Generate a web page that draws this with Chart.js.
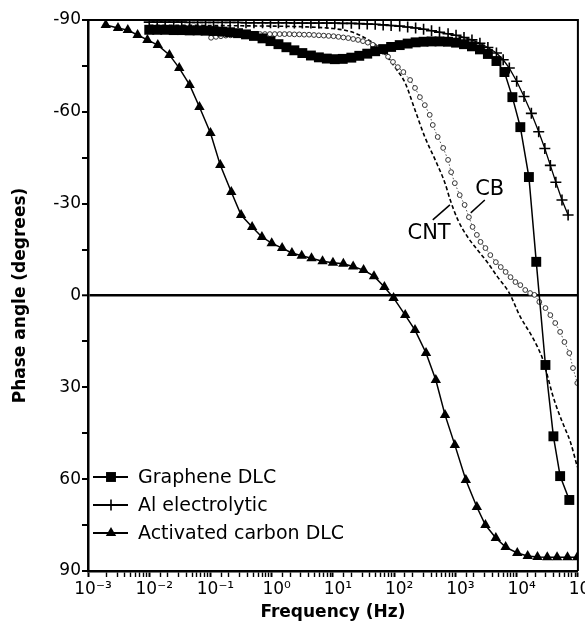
<!DOCTYPE html>
<html><head><meta charset="utf-8">
<script src="https://cdn.jsdelivr.net/npm/chart.js@4.4.1/dist/chart.umd.min.js"></script>
<style>html,body{margin:0;padding:0;background:#fff;}#wrap{width:585px;height:632px;}</style>
</head><body><div id="wrap"><canvas id="c" width="585" height="632"></canvas></div>
<script>
// ---- data (frequencies stored as log10(Hz), phase in degrees) ----
const xTickExponents = [-3,-2,-1,0,1,2,3,4,5];
const yTickLabels = [-90,-60,-30,0,30,60,90];
const seriesNames = ['Graphene DLC','Al electrolytic','Activated carbon DLC','CB','CNT'];

const grapheneLogHz = [-2.00,-1.87,-1.74,-1.60,-1.47,-1.34,-1.21,-1.08,-0.95,-0.81,-0.68,-0.55,-0.42,-0.29,-0.15,-0.02,0.11,0.24,0.37,0.50,0.64,0.77,0.90,1.03,1.16,1.30,1.43,1.56,1.69,1.82,1.95,2.09,2.22,2.35,2.48,2.61,2.74,2.88,3.01,3.14,3.27,3.40,3.53,3.67,3.80,3.93,4.06,4.20,4.32,4.47,4.60,4.71,4.86];
const graphenePhase = [-86.8,-86.8,-86.8,-86.7,-86.7,-86.6,-86.6,-86.5,-86.4,-86.2,-86.0,-85.7,-85.3,-84.8,-84.0,-83.1,-82.1,-81.1,-80.1,-79.2,-78.4,-77.8,-77.4,-77.2,-77.3,-77.7,-78.3,-79.0,-79.8,-80.5,-81.2,-81.8,-82.3,-82.7,-82.9,-83.0,-83.0,-82.9,-82.6,-82.1,-81.4,-80.4,-78.9,-76.6,-73.0,-64.8,-55.0,-38.7,-11.0,22.7,46.0,59.0,66.8];

const alLogHz = [-2.00,-1.87,-1.74,-1.60,-1.47,-1.34,-1.21,-1.08,-0.95,-0.81,-0.68,-0.55,-0.42,-0.29,-0.15,-0.02,0.11,0.24,0.37,0.50,0.64,0.77,0.90,1.03,1.16,1.30,1.43,1.56,1.69,1.82,1.95,2.09,2.22,2.35,2.48,2.61,2.74,2.88,3.01,3.14,3.27,3.40,3.53,3.67,3.78,3.88,4.00,4.12,4.24,4.36,4.46,4.55,4.64,4.74,4.84];
const alPhase = [-89.3,-89.3,-89.3,-89.3,-89.3,-89.2,-89.2,-89.2,-89.2,-89.2,-89.2,-89.2,-89.1,-89.1,-89.1,-89.1,-89.1,-89.1,-89.0,-89.0,-89.0,-89.0,-89.0,-89.0,-88.9,-88.9,-88.8,-88.7,-88.6,-88.4,-88.2,-88.0,-87.7,-87.4,-87.0,-86.5,-86.0,-85.5,-85.0,-84.3,-83.5,-82.4,-81.0,-79.2,-77.0,-74.3,-70.0,-65.0,-59.5,-53.5,-48.0,-42.5,-37.0,-31.2,-26.3];

const acLogHz = [-2.71,-2.51,-2.35,-2.19,-2.03,-1.86,-1.67,-1.51,-1.34,-1.18,-1.00,-0.84,-0.66,-0.50,-0.32,-0.16,0.00,0.17,0.33,0.49,0.65,0.83,1.00,1.17,1.33,1.50,1.67,1.84,1.99,2.18,2.34,2.52,2.68,2.83,2.99,3.17,3.35,3.49,3.66,3.82,4.01,4.18,4.34,4.50,4.66,4.83,4.99];
const acPhase = [-88.4,-87.4,-86.7,-85.1,-83.5,-81.8,-78.6,-74.3,-68.8,-61.6,-53.1,-42.6,-33.8,-26.3,-22.4,-19.1,-17.1,-15.5,-13.9,-13.0,-12.2,-11.2,-10.7,-10.4,-9.5,-8.3,-6.3,-2.8,0.8,6.4,11.3,18.8,27.6,39.0,48.8,60.3,69.1,75.0,79.2,82.2,84.1,85.1,85.4,85.5,85.5,85.5,85.5];

const cbLogHz = [-0.99,-0.91,-0.83,-0.75,-0.67,-0.59,-0.51,-0.43,-0.35,-0.27,-0.19,-0.11,-0.03,0.05,0.13,0.21,0.29,0.37,0.45,0.53,0.61,0.69,0.77,0.85,0.93,1.01,1.09,1.17,1.25,1.33,1.41,1.49,1.57,1.65,1.74,1.82,1.90,1.98,2.06,2.15,2.26,2.34,2.42,2.50,2.58,2.63,2.71,2.80,2.88,2.93,2.99,3.07,3.15,3.22,3.28,3.35,3.41,3.49,3.57,3.66,3.74,3.82,3.90,3.98,4.06,4.14,4.22,4.29,4.37,4.47,4.55,4.63,4.71,4.78,4.86,4.92,4.99];
const cbPhase = [-84.2,-84.5,-84.7,-84.9,-85.0,-85.1,-85.2,-85.3,-85.3,-85.4,-85.4,-85.4,-85.4,-85.4,-85.4,-85.4,-85.4,-85.3,-85.3,-85.2,-85.2,-85.1,-85.0,-84.9,-84.8,-84.7,-84.5,-84.3,-84.1,-83.8,-83.5,-83.1,-82.6,-81.9,-80.9,-79.6,-78.0,-76.3,-74.6,-73.0,-70.4,-67.8,-64.8,-62.2,-59.0,-55.7,-51.8,-48.2,-44.3,-40.3,-36.7,-32.8,-29.6,-25.6,-22.4,-19.8,-17.5,-15.5,-13.2,-10.9,-9.3,-7.7,-6.0,-4.4,-3.4,-1.8,-0.8,-0.2,2.1,4.1,6.4,9.0,11.9,15.2,18.8,23.7,28.6];

const cntLogHz = [-2.00,-1.50,-1.00,-0.50,0.00,0.50,1.00,1.25,1.42,1.58,1.74,1.90,2.04,2.18,2.34,2.50,2.67,2.83,2.91,3.04,3.20,3.36,3.53,3.69,3.88,4.06,4.22,4.34,4.42,4.50,4.58,4.68,4.78,4.88,4.99];
const cntPhase = [-88.3,-88.3,-88.2,-88.1,-88.0,-87.8,-87.2,-86.4,-85.2,-83.5,-81.2,-77.6,-73.8,-69.4,-60.6,-51.8,-44.3,-36.7,-31.5,-24.7,-19.1,-14.9,-10.6,-6.0,-0.8,7.0,12.3,16.8,20.5,26.0,32.0,38.0,43.0,48.0,56.0];

// curve labels anchored in data space (log10 Hz, phase)
const curveLabelText = ['CB','CNT'];
const curveLabelAt = [[3.56,-34.6],[2.57,-20.1]];
const curveLeaderFrom = [[3.48,-31.2],[2.63,-24.7]];
const curveLeaderTo = [[3.25,-27.0],[2.91,-29.6]];

// ---- build ----
const toPts = (lx, py) => lx.map((v,i)=>({x:Math.pow(10,v), y:py[i]}));
const SUP = {'-':'\u207B','0':'\u2070','1':'\u00B9','2':'\u00B2','3':'\u00B3','4':'\u2074','5':'\u2075'};
const supStr = n => String(n).split('').map(c=>SUP[c]).join('');
const FONT = '"DejaVu Sans", sans-serif';

function drawMarker(ctx, style, x, y, r) {
  ctx.beginPath();
  if (style === 'rect') {
    const s = r*Math.SQRT1_2; ctx.rect(x-s, y-s, 2*s, 2*s); ctx.fill();
  } else if (style === 'triangle') {
    let a = 0; ctx.moveTo(x+Math.sin(a)*r, y-Math.cos(a)*r);
    a += 2*Math.PI/3; ctx.lineTo(x+Math.sin(a)*r, y-Math.cos(a)*r);
    a += 2*Math.PI/3; ctx.lineTo(x+Math.sin(a)*r, y-Math.cos(a)*r);
    ctx.closePath(); ctx.fill();
  } else if (style === 'cross') {
    ctx.moveTo(x-r, y); ctx.lineTo(x+r, y); ctx.moveTo(x, y-r); ctx.lineTo(x, y+r); ctx.stroke();
  }
}

const decor = {
  id: 'decor',
  afterDatasetsDraw(chart) {
    const {ctx, chartArea: a, scales: {x, y}} = chart;
    ctx.save();
    ctx.strokeStyle = '#000'; ctx.fillStyle = '#000';
    ctx.lineWidth = 2;
    ctx.beginPath(); ctx.moveTo(a.left, a.top); ctx.lineTo(a.right, a.top); ctx.lineTo(a.right, a.bottom); ctx.stroke();
    // curve labels
    ctx.font = '21px ' + FONT; ctx.textAlign = 'center'; ctx.textBaseline = 'middle';
    ctx.lineWidth = 1.5;
    curveLabelText.forEach((t, i) => {
      ctx.fillText(t, x.getPixelForValue(Math.pow(10, curveLabelAt[i][0])), y.getPixelForValue(curveLabelAt[i][1]));
      ctx.beginPath();
      ctx.moveTo(x.getPixelForValue(Math.pow(10, curveLeaderFrom[i][0])), y.getPixelForValue(curveLeaderFrom[i][1]));
      ctx.lineTo(x.getPixelForValue(Math.pow(10, curveLeaderTo[i][0])), y.getPixelForValue(curveLeaderTo[i][1]));
      ctx.stroke();
    });
    // legend (first three series)
    ctx.font = '19px ' + FONT; ctx.textAlign = 'left';
    const rows = [a.bottom-94, a.bottom-66, a.bottom-38];
    [0,1,2].forEach((di, k) => {
      const ds = chart.data.datasets[di];
      const yy = rows[k];
      ctx.lineWidth = 2;
      ctx.beginPath(); ctx.moveTo(a.left+5, yy); ctx.lineTo(a.left+40, yy); ctx.stroke();
      ctx.lineWidth = ds.pointBorderWidth || 1.5;
      drawMarker(ctx, ds.pointStyle, a.left+23, yy, ds.pointRadius);
      ctx.fillText(ds.label, a.left+50, yy+1);
    });
    ctx.restore();
  }
};

const isPow10 = v => Math.abs(Math.log10(v) - Math.round(Math.log10(v))) < 1e-6;

new Chart(document.getElementById('c'), {
  type: 'line',
  data: {
    datasets: [
      {label: seriesNames[0], data: toPts(grapheneLogHz, graphenePhase), borderColor:'#000', backgroundColor:'#000',
       borderWidth:1.5, pointStyle:'rect', pointRadius:7, pointBorderWidth:0, pointBackgroundColor:'#000', tension:0},
      {label: seriesNames[1], data: toPts(alLogHz, alPhase), borderColor:'#000', backgroundColor:'#000',
       borderWidth:1.3, pointStyle:'cross', pointRadius:5.5, pointBorderWidth:1.6, pointBorderColor:'#000', tension:0},
      {label: seriesNames[2], data: toPts(acLogHz, acPhase), borderColor:'#000', backgroundColor:'#000',
       borderWidth:1.5, pointStyle:'triangle', pointRadius:6, pointBorderWidth:0, pointBackgroundColor:'#000', tension:0},
      {label: seriesNames[3], data: toPts(cbLogHz, cbPhase), borderColor:'#555', borderWidth:1, borderDash:[1.5,2],
       pointStyle:'circle', pointRadius:2.4, pointBorderWidth:1, pointBorderColor:'#333', pointBackgroundColor:'#fff', tension:0},
      {label: seriesNames[4], data: toPts(cntLogHz, cntPhase), borderColor:'#000', borderWidth:1.6, borderDash:[4,2.5],
       pointRadius:0, cubicInterpolationMode:'monotone'}
    ]
  },
  options: {
    responsive:false, animation:false, devicePixelRatio:1,
    layout: {padding: {top:20, right:4, left:0, bottom:0}},
    plugins: {legend:{display:false}, tooltip:{enabled:false}},
    scales: {
      x: {
        type:'logarithmic', position:'bottom',
        min: Math.pow(10, xTickExponents[0]), max: Math.pow(10, xTickExponents[xTickExponents.length-1]),
        border:{display:true, color:'#000', width:2.5},
        grid:{drawOnChartArea:false, drawTicks:true, tickLength:6, tickColor:'#000',
              tickWidth: c => (c.tick && isPow10(c.tick.value)) ? 2 : 1.4},
        ticks:{autoSkip:false, maxRotation:0, minRotation:0, color:'#000', padding:2, labelOffset:5,
               font:{family:'DejaVu Sans', size:17},
               callback: v => {
                 if (!isPow10(v)) return '';
                 const e = Math.round(Math.log10(v));
                 return xTickExponents.includes(e) ? '10' + supStr(e) : '';
               }},
        title:{display:true, text:'Frequency (Hz)', color:'#000', font:{family:'DejaVu Sans', size:17, weight:'bold'}, padding:{top:0, bottom:9}},
        afterFit: s => { s.height = 61; s.paddingLeft = 0; s.paddingRight = 0; }
      },
      y: {
        type:'linear', reverse:true, min: yTickLabels[0], max: yTickLabels[yTickLabels.length-1],
        border:{display:true, color:'#000', width:2.5},
        grid:{drawOnChartArea:true, drawTicks:true, tickLength:6, tickColor:'#000', tickWidth:2,
              color: c => (c.tick && c.tick.value === 0) ? '#000' : 'rgba(0,0,0,0)',
              lineWidth: c => (c.tick && c.tick.value === 0) ? 2.6 : 0},
        ticks:{stepSize:15, autoSkip:false, color:'#000', padding:1, font:{family:'DejaVu Sans', size:17},
               callback: v => yTickLabels.includes(v) ? String(v) : ''},
        title:{display:true, text:'Phase angle (degrees)', color:'#000', font:{family:'DejaVu Sans', size:17, weight:'bold'}, padding:{top:10, bottom:0}},
        afterFit: s => { s.width = 88; s.paddingTop = 0; s.paddingBottom = 0; }
      }
    }
  },
  plugins:[decor]
});
</script></body></html>
